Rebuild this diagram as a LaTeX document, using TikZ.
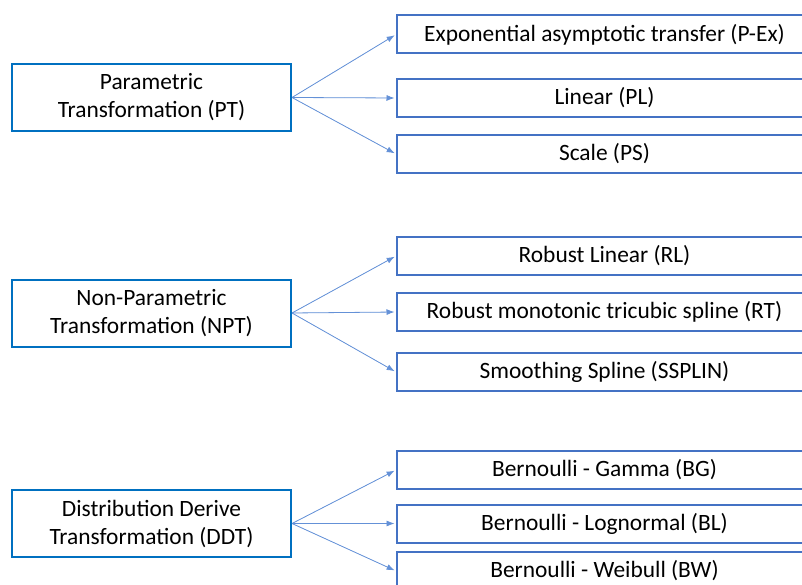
\documentclass[tikz,border=0pt]{standalone}
\usepackage{fontspec}
\setmainfont{Carlito}
\usetikzlibrary{arrows.meta}
\definecolor{grpblue}{RGB}{0,112,192}
\definecolor{subblue}{RGB}{68,114,196}
\definecolor{arrblue}{RGB}{100,145,215}
\tikzset{
  grp/.style={draw=grpblue, line width=2pt, minimum width=279pt, minimum height=67pt,
    inner sep=0pt, align=center, font=\fontsize{23.4}{28}\selectfont},
  sub/.style={draw=subblue, line width=2pt, minimum width=415pt, minimum height=38pt,
    inner sep=0pt, font=\fontsize{23.4}{28}\selectfont},
  lnk/.style={-{Latex[length=8pt,width=6pt]}, draw=arrblue, fill=arrblue, line width=0.8pt, shorten >=1.5pt}
}
\begin{document}
\begin{tikzpicture}[x=1pt,y=-1pt]
    \useasboundingbox (0,0) rectangle (802,585);
    \clip (0,0) rectangle (802,585);
    \def\xl{151.5}
    \def\xr{604.5}
    % left column
    \node[grp] (A0) at (\xl, 97.5) {Parametric\\Transformation (PT)};
    \node[grp] (A1) at (\xl, 313) {Non-Parametric\\Transformation (NPT)};
    \node[grp] (A2) at (\xl, 523.5) {Distribution Derive\\Transformation (DDT)};
    % right column
    \node[sub] (B0_0) at (\xr, 34.5) {Exponential asymptotic transfer (P-Ex)};
    \node[sub] (B0_1) at (\xr, 98) {Linear (PL)};
    \node[sub] (B0_2) at (\xr, 154) {Scale (PS)};
    \node[sub] (B1_0) at (\xr, 256) {Robust Linear (RL)};
    \node[sub] (B1_1) at (\xr, 312) {Robust monotonic tricubic spline (RT)};
    \node[sub] (B1_2) at (\xr, 372) {Smoothing Spline (SSPLIN)};
    \node[sub] (B2_0) at (\xr, 470) {Bernoulli - Gamma (BG)};
    \node[sub] (B2_1) at (\xr, 523.5) {Bernoulli - Lognormal (BL)};
    \node[sub] (B2_2) at (\xr, 571) {Bernoulli - Weibull (BW)};
    % links
    \path (A0.east) edge [lnk] (B0_0.west);
    \path (A0.east) edge [lnk] (B0_1.west);
    \path (A0.east) edge [lnk] (B0_2.west);
    \path (A1.east) edge [lnk] (B1_0.west);
    \path (A1.east) edge [lnk] (B1_1.west);
    \path (A1.east) edge [lnk] (B1_2.west);
    \path (A2.east) edge [lnk] (B2_0.west);
    \path (A2.east) edge [lnk] (B2_1.west);
    \path (A2.east) edge [lnk] (B2_2.west);
\end{tikzpicture}
\end{document}
